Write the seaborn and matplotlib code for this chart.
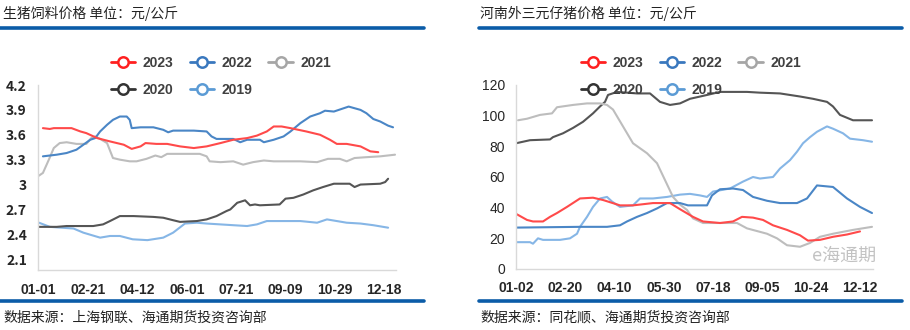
import matplotlib
matplotlib.use("Agg")
import matplotlib.pyplot as plt
from matplotlib.lines import Line2D
import pandas as pd
import seaborn as sns

# ---------------- Left panel: 生猪饲料价格 (元/公斤) ----------------
feed_tick_days = [0, 51, 101, 151, 201, 251, 301, 351]
feed_tick_labels = ["01-01", "02-21", "04-12", "06-01", "07-21", "09-09", "10-29", "12-18"]
feed_yticks = [2.1, 2.4, 2.7, 3.0, 3.3, 3.6, 3.9, 4.2]
feed_ylabels = ["2.1", "2.4", "2.7", "3", "3.3", "3.6", "3.9", "4.2"]

feed_2023_day = [5, 12, 16, 34, 43, 49, 60, 73, 87, 95, 104, 109, 120, 131, 144, 158, 171, 185, 198,
                 212, 222, 232, 239, 247, 256, 272, 286, 296, 303, 313, 327, 337, 345]
feed_2023_val = [3.68, 3.67, 3.68, 3.68, 3.64, 3.62, 3.56, 3.52, 3.48, 3.43, 3.46, 3.50, 3.49, 3.49, 3.46,
                 3.44, 3.46, 3.50, 3.54, 3.56, 3.59, 3.64, 3.70, 3.70, 3.68, 3.64, 3.60, 3.54, 3.49, 3.49,
                 3.46, 3.40, 3.39]

feed_2022_day = [5, 19, 29, 39, 46, 53, 58, 63, 70, 76, 83, 90, 93, 95, 104, 117, 127, 132, 137, 158, 171,
                 176, 181, 198, 205, 212, 225, 229, 239, 249, 256, 266, 276, 286, 291, 300, 310, 315, 327,
                 333, 340, 347, 355, 360]
feed_2022_val = [3.34, 3.36, 3.38, 3.42, 3.48, 3.54, 3.56, 3.64, 3.72, 3.78, 3.82, 3.82, 3.78, 3.68, 3.69,
                 3.69, 3.66, 3.63, 3.65, 3.65, 3.64, 3.58, 3.55, 3.55, 3.51, 3.54, 3.54, 3.51, 3.54, 3.58,
                 3.64, 3.74, 3.82, 3.86, 3.89, 3.88, 3.92, 3.94, 3.90, 3.86, 3.79, 3.76, 3.71, 3.69]

feed_2021_day = [0, 5, 11, 16, 22, 29, 39, 49, 54, 58, 63, 70, 76, 83, 93, 100, 110, 119, 125, 131, 164,
                 171, 174, 185, 198, 208, 218, 229, 239, 266, 283, 294, 306, 313, 321, 333, 347, 362]
feed_2021_val = [3.10, 3.14, 3.30, 3.44, 3.50, 3.51, 3.49, 3.49, 3.56, 3.58, 3.55, 3.50, 3.32, 3.30, 3.28,
                 3.28, 3.31, 3.35, 3.33, 3.37, 3.37, 3.34, 3.28, 3.27, 3.28, 3.24, 3.27, 3.29, 3.28, 3.28,
                 3.27, 3.31, 3.31, 3.28, 3.32, 3.33, 3.34, 3.36]

feed_2020_day = [0, 19, 29, 46, 56, 66, 73, 83, 97, 117, 127, 137, 144, 161, 171, 181, 191, 195, 202, 210,
                 215, 220, 225, 245, 251, 259, 269, 279, 289, 300, 316, 321, 327, 347, 352, 355]
feed_2020_val = [2.49, 2.49, 2.50, 2.50, 2.50, 2.52, 2.56, 2.62, 2.62, 2.61, 2.60, 2.57, 2.55, 2.56, 2.58,
                 2.62, 2.68, 2.70, 2.78, 2.81, 2.75, 2.76, 2.75, 2.76, 2.83, 2.84, 2.88, 2.93, 2.97, 3.01,
                 3.01, 2.97, 3.00, 3.01, 3.03, 3.07]

feed_2019_day = [1, 12, 36, 46, 63, 73, 83, 96, 111, 127, 137, 149, 161, 171, 198, 212, 222, 232, 266, 283,
                 293, 313, 327, 340, 355]
feed_2019_val = [2.54, 2.49, 2.47, 2.42, 2.36, 2.38, 2.38, 2.34, 2.33, 2.36, 2.42, 2.53, 2.54, 2.53, 2.51,
                 2.50, 2.52, 2.56, 2.56, 2.54, 2.58, 2.54, 2.53, 2.51, 2.48]

# ---------------- Right panel: 河南外三元仔猪价格 (元/公斤) ----------------
pig_tick_days = [0, 49, 98, 148, 197, 246, 295, 344]
pig_tick_labels = ["01-02", "02-20", "04-10", "05-30", "07-18", "09-05", "10-24", "12-12"]
pig_yticks = [0, 20, 40, 60, 80, 100, 120]

pig_2023_day = [0, 11, 17, 27, 34, 41, 51, 64, 77, 87, 104, 117, 137, 154, 164, 177, 187, 204, 217, 226,
                237, 247, 257, 271, 284, 292, 304, 317, 331, 344]
pig_2023_val = [36, 32, 31, 31, 34, 36.5, 40.5, 46, 46.5, 45, 41.5, 41.5, 43, 43, 39, 34, 31, 30, 31, 34,
                33.5, 32, 28.5, 25.5, 22, 18.5, 19, 21, 22.5, 24.5]

pig_2022_day = [0, 64, 91, 104, 111, 121, 131, 141, 151, 164, 172, 191, 196, 204, 217, 227, 237, 251, 264,
                281, 291, 301, 317, 331, 344, 356]
pig_2022_val = [27, 27.5, 27.5, 28.5, 31, 34, 36.5, 39.5, 43, 43, 41.5, 41.5, 48, 52, 52.5, 51.5, 47, 44.5,
                43, 43, 46, 54.5, 53.5, 46, 40.5, 36.5]

pig_2021_day = [2, 11, 24, 36, 41, 57, 71, 84, 91, 97, 107, 117, 131, 141, 149, 157, 164, 171, 177, 187,
                221, 231, 251, 261, 271, 284, 294, 304, 317, 337, 356]
pig_2021_val = [97, 98, 100.5, 101.5, 105.5, 107, 108, 108, 107, 104, 93, 82, 75.5, 69, 58, 47, 42, 38.5,
                33, 30, 30, 26.5, 23, 20, 15.5, 14.5, 17, 21, 23, 25.5, 27.5]

pig_2020_day = [0, 14, 34, 37, 47, 57, 67, 77, 84, 89, 92, 101, 121, 134, 144, 154, 164, 174, 191, 204,
                231, 244, 264, 284, 297, 311, 317, 324, 337, 356]
pig_2020_val = [82, 84, 84.5, 86, 88.5, 92, 96, 101.5, 106, 109, 113.5, 115.5, 114.5, 114.5, 109, 107, 108,
                111, 113.5, 115.5, 115.5, 115, 114.5, 112.5, 111, 109, 106, 100.5, 97, 97]

pig_2019_day = [0, 14, 17, 22, 27, 44, 54, 61, 64, 71, 77, 84, 91, 96, 104, 117, 124, 137, 151, 164, 174,
                184, 191, 197, 214, 227, 237, 244, 257, 264, 274, 281, 287, 294, 301, 311, 317, 327, 334,
                347, 356]
pig_2019_val = [17.5, 17.5, 16.5, 20, 19, 19, 20, 23, 27.5, 34, 40.5, 46, 47, 44, 40.5, 41.5, 46, 46, 47,
                48.5, 49, 48, 47, 50.5, 52.5, 57, 60, 59, 60, 65.5, 71, 76.5, 82, 86, 89.5, 93, 91.5,
                88.5, 85, 84, 83]

years = ["2023", "2022", "2021", "2020", "2019"]
line_colors = {"2023": "#FF4A4A", "2022": "#4A86C6", "2021": "#BDBDBD", "2020": "#555555", "2019": "#86B6E6"}
legend_colors = {"2023": "#FF2020", "2022": "#3A78BE", "2021": "#A6A6A6", "2020": "#333333", "2019": "#5B9BD5"}

feed_series = {
    "2023": (feed_2023_day, feed_2023_val), "2022": (feed_2022_day, feed_2022_val),
    "2021": (feed_2021_day, feed_2021_val), "2020": (feed_2020_day, feed_2020_val),
    "2019": (feed_2019_day, feed_2019_val),
}
pig_series = {
    "2023": (pig_2023_day, pig_2023_val), "2022": (pig_2022_day, pig_2022_val),
    "2021": (pig_2021_day, pig_2021_val), "2020": (pig_2020_day, pig_2020_val),
    "2019": (pig_2019_day, pig_2019_val),
}

sns.set_theme(style="white")
plt.rcParams["font.family"] = ["Liberation Sans", "Noto Sans CJK SC", "DejaVu Sans"]
CJK = ["Noto Sans CJK SC", "DejaVu Sans"]

W, H = 910, 330
fig = plt.figure(figsize=(W / 100, H / 100), dpi=100)


def fx(px):
    return px / W


def fy(py):
    return 1 - py / H


def draw_panel(ax, series, xmax, ylim, yticks, ylabels, xticks, xlabels, ylab_font):
    for yr in ["2019", "2020", "2021", "2022", "2023"]:
        d, v = series[yr]
        df = pd.DataFrame({"day": d, "val": v})
        sns.lineplot(data=df, x="day", y="val", ax=ax, color=line_colors[yr], lw=1.5,
                     sort=False, estimator=None, legend=False)
    ax.set_xlim(0, xmax)
    ax.set_ylim(*ylim)
    ax.set_yticks(yticks)
    ax.set_yticklabels(ylabels)
    ax.set_xticks(xticks + [xmax])
    ax.set_xticklabels(xlabels + [""])
    ax.set_xlabel("")
    ax.set_ylabel("")
    for s in ["top", "right"]:
        ax.spines[s].set_visible(False)
    for s in ["left", "bottom"]:
        ax.spines[s].set_color("#D9D9D9")
        ax.spines[s].set_linewidth(1.0)
    ax.tick_params(axis="x", direction="in", length=5, width=1, color="#D9D9D9", pad=9,
                   labelsize=10, labelcolor="#262626")
    ax.tick_params(axis="y", length=0, pad=8, labelsize=10, labelcolor="#262626")
    for lab in ax.get_yticklabels():
        lab.set_fontfamily(ylab_font)
    for lab in ax.get_xticklabels():
        lab.set_fontweight("semibold")
    ax.set_facecolor("white")
    ax.grid(False)


# Left axes
axL = fig.add_axes([fx(38), fy(270), fx(396 - 38), (270 - 85) / H])
draw_panel(axL, feed_series, 363, (1.97, 4.2), feed_yticks, feed_ylabels,
           feed_tick_days, feed_tick_labels, CJK)
for lab in axL.get_yticklabels():
    lab.set_fontweight("bold")

# Right axes
axR = fig.add_axes([fx(516), fy(269), fx(873 - 516), (269 - 85) / H])
draw_panel(axR, pig_series, 357, (0, 120), pig_yticks, [str(t) for t in pig_yticks],
           pig_tick_days, pig_tick_labels, ["Liberation Sans"])

# Legends (row-major: 2023 2022 2021 / 2020 2019)
order = ["2023", "2020", "2022", "2019", "2021"]
handles = [Line2D([0], [0], color=legend_colors[y], lw=2, marker="o", markersize=7.5,
                  markerfacecolor="white", markeredgecolor=legend_colors[y], markeredgewidth=1.8)
           for y in order]
for x0 in (111, 581):
    leg = fig.legend(handles, order, ncol=3, loc="upper left",
                     bbox_to_anchor=(fx(x0), fy(56)), frameon=False, fontsize=10,
                     handlelength=1.75, handletextpad=0.55, columnspacing=1.15,
                     labelspacing=0.95, borderpad=0, borderaxespad=0)
    for t in leg.get_texts():
        t.set_color("#404040")
        t.set_fontweight("semibold")

# Titles, rules, source notes
BLUE = "#0B5CA8"
fig.text(fx(3), fy(13), "生猪饲料价格 单位：元/公斤", family=CJK, fontsize=10,
         color="#222222", va="center", ha="left")
fig.text(fx(480), fy(13), "河南外三元仔猪价格 单位：元/公斤", family=CJK, fontsize=10,
         color="#222222", va="center", ha="left")
for (xa, xb) in [(0, 424), (479, 902)]:
    for yy in (27.5, 300.5):
        fig.add_artist(Line2D([fx(xa), fx(xb)], [fy(yy), fy(yy)], color=BLUE, lw=2.6,
                              transform=fig.transFigure))
fig.text(fx(3), fy(318), "数据来源：上海钢联、海通期货投资咨询部", family=CJK, fontsize=10,
         color="#222222", va="center", ha="left")
fig.text(fx(480), fy(318), "数据来源：同花顺、海通期货投资咨询部", family=CJK, fontsize=10,
         color="#222222", va="center", ha="left")

# Watermark (kept clear of the tick labels)
fig.text(fx(812), fy(256), "e海通期", family=CJK, fontsize=13, color="#9A9A9A",
         alpha=0.6, va="center", ha="left")

fig.savefig("out.png", dpi=100, facecolor="white")
